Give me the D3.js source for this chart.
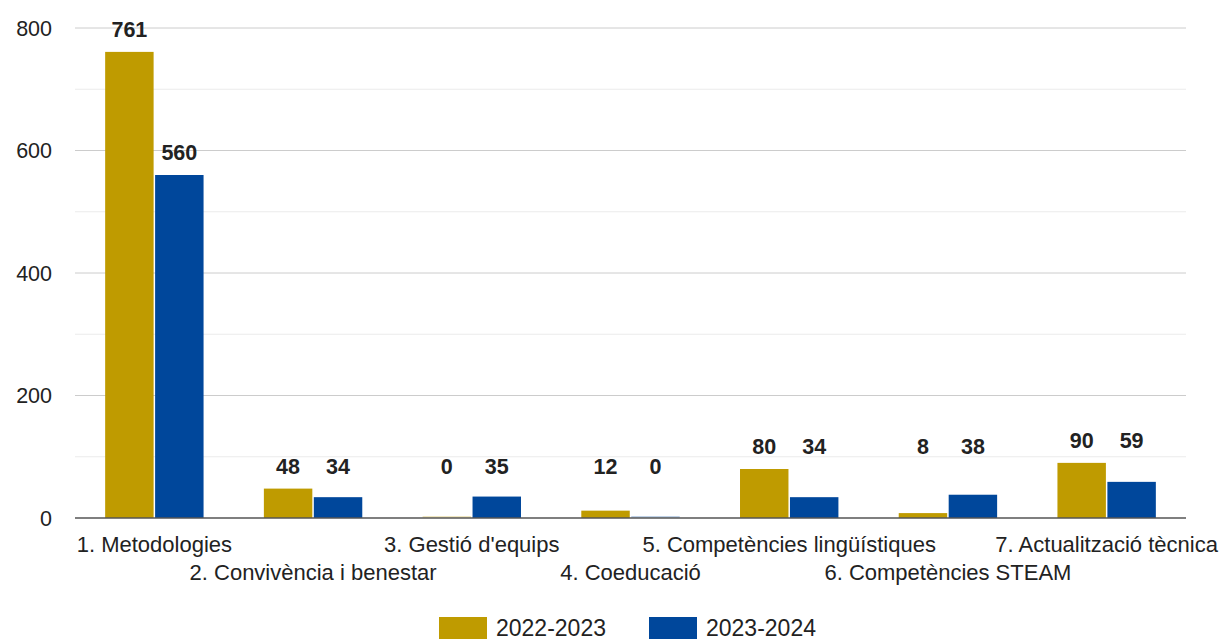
<!DOCTYPE html>
<html>
<head>
<meta charset="utf-8">
<script src="https://cdn.jsdelivr.net/npm/d3@7"></script>
<style>
  body { margin: 0; background: #fff; }
  text { font-family: "Liberation Sans", Arial, sans-serif; fill: #222; }
</style>
</head>
<body>
<svg id="chart" width="1223" height="639"></svg>
<script>
// Chart data
const categories = [
  '1. Metodologies',
  '2. Convivència i benestar',
  "3. Gestió d'equips",
  '4. Coeducació',
  '5. Competències lingüístiques',
  '6. Competències STEAM',
  '7. Actualització tècnica'
];
const seriesNames = ['2022-2023', '2023-2024'];
const values2223 = [761, 48, 0, 12, 80, 8, 90];
const values2324 = [560, 34, 35, 0, 34, 38, 59];
const yTicks = [0, 200, 400, 600, 800];
const colors = ['#bf9b00', '#00479b'];

let svg = d3.select('#chart');
let plotLeft = 75, plotRight = 1186, plotTop = 28, plotBottom = 518;

// Scales
let x0 = d3.scaleBand()
  .domain(categories)
  .range([plotLeft, plotRight])
  .paddingInner(0.38)
  .paddingOuter(0.19);

let x1 = d3.scaleBand()
  .domain(seriesNames)
  .range([0, x0.bandwidth()])
  .paddingInner(0.03);

let y = d3.scaleLinear().domain([0, 800]).range([plotBottom, plotTop]);

// Gridlines (major every 200, minor in between)
let grid = svg.append('g');
grid.selectAll('line')
  .data(d3.range(100, 801, 100))
  .enter().append('line')
    .attr('x1', plotLeft).attr('x2', plotRight)
    .attr('y1', d => y(d)).attr('y2', d => y(d))
    .attr('stroke', d => d % 200 === 0 ? '#cccccc' : '#ebebeb')
    .attr('stroke-width', 1);

// Y axis labels
svg.append('g').selectAll('text')
  .data(yTicks)
  .enter().append('text')
    .attr('x', 52)
    .attr('y', d => y(d))
    .attr('dy', '0.35em')
    .attr('text-anchor', 'end')
    .style('font-size', '21.5px')
    .text(d => d);

// Bars
let rows = categories.map((c, i) => ({
  cat: c,
  vals: [values2223[i], values2324[i]]
}));
let groupMax = rows.map(r => Math.max(...r.vals));

let groups = svg.append('g').selectAll('g')
  .data(rows)
  .enter().append('g')
    .attr('transform', d => 'translate(' + x0(d.cat) + ',0)');

groups.selectAll('rect')
  .data(d => d.vals.map((v, j) => ({ v: v, s: seriesNames[j], j: j })))
  .enter().append('rect')
    .attr('x', d => x1(d.s))
    .attr('width', x1.bandwidth())
    .attr('y', d => d.v === 0 ? plotBottom - 2 : y(d.v))
    .attr('height', d => d.v === 0 ? 2 : plotBottom - y(d.v))
    .attr('fill', d => colors[d.j])
    .attr('opacity', d => d.v === 0 ? 0.25 : 1);

// Value labels: small groups get pushed up to clear their neighbours' labels
groups.selectAll('text')
  .data((d, i) => {
    let prev = i > 0 && groupMax[i - 1] <= 100 ? groupMax[i - 1] : 0;
    return d.vals.map((v, j) => ({
      v: v, s: seriesNames[j],
      lv: groupMax[i] > 100 ? v : Math.max(groupMax[i], prev, 48)
    }));
  })
  .enter().append('text')
    .attr('x', d => x1(d.s) + x1.bandwidth() / 2)
    .attr('y', d => y(d.lv) - 15)
    .attr('text-anchor', 'middle')
    .style('font-size', '21.5px')
    .style('font-weight', 'bold')
    .text(d => d.v);

// Baseline
svg.append('line')
  .attr('x1', plotLeft).attr('x2', plotRight)
  .attr('y1', plotBottom).attr('y2', plotBottom)
  .attr('stroke', '#555')
  .attr('stroke-width', 1.5);

// Category labels, staggered in two rows
svg.append('g').selectAll('text')
  .data(categories)
  .enter().append('text')
    .attr('x', d => x0(d) + x0.bandwidth() / 2)
    .attr('y', (d, i) => i % 2 === 0 ? 552 : 580)
    .attr('text-anchor', 'middle')
    .style('font-size', '22px')
    .text(d => d);

// Legend
let legend = svg.append('g');
let lx = [439, 649];
seriesNames.forEach((s, i) => {
  legend.append('rect')
    .attr('x', lx[i]).attr('y', 617)
    .attr('width', 48).attr('height', 24)
    .attr('fill', colors[i]);
  legend.append('text')
    .attr('x', lx[i] + 57).attr('y', 636)
    .style('font-size', '23px')
    .text(s);
});
</script>
</body>
</html>
